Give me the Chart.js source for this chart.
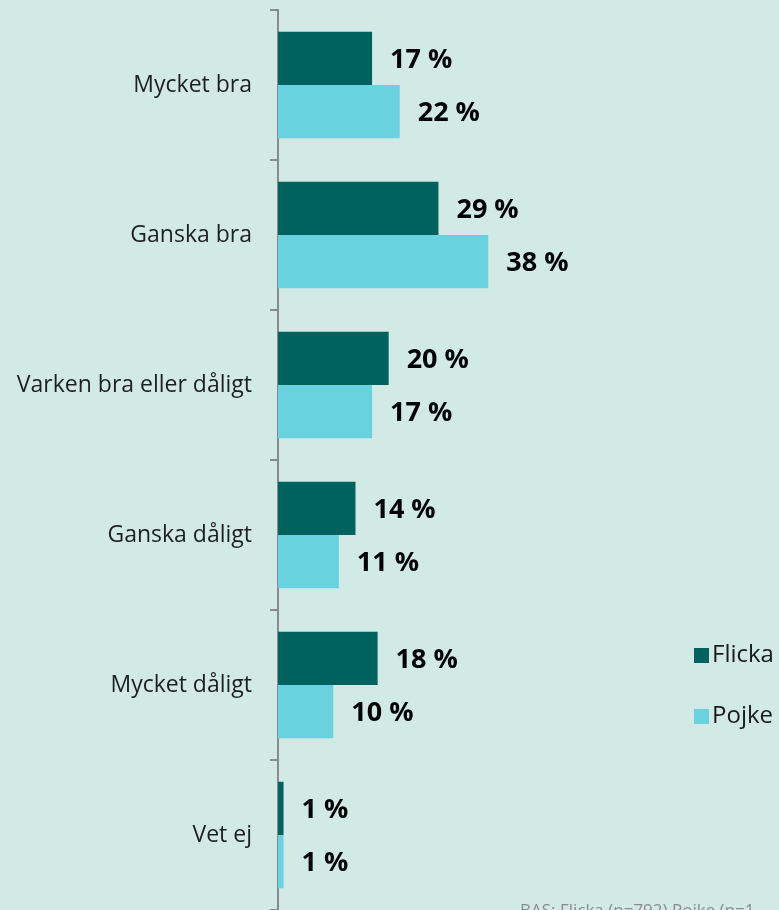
<!DOCTYPE html>
<html>
<head>
<meta charset="utf-8">
<script src="https://cdn.jsdelivr.net/npm/chart.js@4/dist/chart.umd.min.js"></script>
<style>
  html, body { margin: 0; padding: 0; background: #d2eae6; }
  #wrap { width: 779px; height: 910px; position: relative; overflow: hidden; }
</style>
</head>
<body>
<div id="wrap"><canvas id="chart"></canvas></div>
<script>
const categories = ['Mycket bra', 'Ganska bra', 'Varken bra eller dåligt', 'Ganska dåligt', 'Mycket dåligt', 'Vet ej'];
const flicka = [17, 29, 20, 14, 18, 1];
const pojke = [22, 38, 17, 11, 10, 1];
const seriesNames = ['Flicka', 'Pojke'];
const footnote = 'BAS: Flicka (n=792) Pojke (n=1';

const FONT = '"Open Sans", "Noto Sans", sans-serif';

// value labels next to each bar
const valueLabels = {
    id: 'valueLabels',
    afterDatasetsDraw(chart) {
        const c = chart.ctx;
        c.save();
        c.font = 'bold 27px ' + FONT;
        c.fillStyle = '#000';
        c.textAlign = 'left';
        c.textBaseline = 'middle';
        chart.data.datasets.forEach((ds, i) => {
            chart.getDatasetMeta(i).data.forEach((bar, j) => {
                c.fillText(ds.data[j] + ' %', bar.x + 18, bar.y + 2);
            });
        });
        c.restore();
    }
};

// legend on the right + footnote
const sideLegend = {
    id: 'sideLegend',
    afterDraw(chart) {
        const c = chart.ctx;
        c.save();
        c.font = '24px ' + FONT;
        c.textBaseline = 'middle';
        c.textAlign = 'left';
        const ys = [655, 716];
        chart.data.datasets.forEach((ds, i) => {
            c.fillStyle = ds.backgroundColor;
            c.fillRect(694, ys[i] - 7, 15, 15);
            c.fillStyle = '#1a1a1a';
            c.fillText(ds.label, 712, ys[i]);
        });
        c.font = '17px ' + FONT;
        c.fillStyle = '#8c8c8c';
        c.textBaseline = 'alphabetic';
        c.fillText(footnote, 520, 916);
        c.restore();
    }
};

new Chart(document.getElementById('chart'), {
    type: 'bar',
    data: {
        labels: categories,
        datasets: [
            { label: seriesNames[0], data: flicka, backgroundColor: '#00625e', categoryPercentage: 0.71, barPercentage: 1 },
            { label: seriesNames[1], data: pojke, backgroundColor: '#6ad2de', categoryPercentage: 0.71, barPercentage: 1 }
        ]
    },
    options: {
        indexAxis: 'y',
        responsive: true,
        maintainAspectRatio: false,
        animation: false,
        layout: { padding: { top: 10, right: 86, bottom: 0, left: 0 } },
        plugins: {
            legend: { display: false },
            tooltip: { enabled: false }
        },
        scales: {
            x: {
                display: false,
                min: 0,
                max: 75
            },
            y: {
                afterFit: (scale) => {
                    scale.width = 278;
                    scale.paddingTop = 0;
                    scale.paddingBottom = 0;
                },
                border: { display: true, color: '#8a8a8a', width: 2 },
                grid: { drawOnChartArea: false, tickLength: 8, color: '#8a8a8a', lineWidth: 2, offset: true },
                ticks: {
                    padding: 18,
                    color: '#1f1f1f',
                    font: { family: FONT, size: 23 }
                }
            }
        }
    },
    plugins: [valueLabels, sideLegend]
});
</script>
</body>
</html>
